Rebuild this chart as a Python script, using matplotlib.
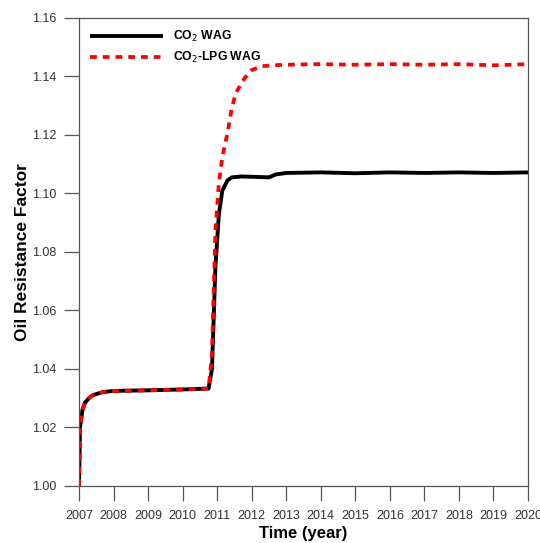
import matplotlib
matplotlib.use("Agg")
import matplotlib.pyplot as plt

plt.rcParams['font.family'] = ['Liberation Sans', 'DejaVu Sans']

# CO2 WAG
co2_t = [2007.0, 2007.03, 2007.1, 2007.17, 2007.3, 2007.41, 2007.69, 2008.0, 2009.0,
         2010.0, 2010.75, 2010.85, 2010.95, 2011.05, 2011.15, 2011.3, 2011.43, 2011.7,
         2012.0, 2012.5, 2012.7, 2013.0, 2014.0, 2015.0, 2016.0, 2017.0, 2018.0, 2019.0, 2020.0]
co2_v = [1.000, 1.020, 1.026, 1.0284, 1.0302, 1.0311, 1.0321, 1.0325, 1.0327,
         1.0330, 1.0333, 1.040, 1.075, 1.093, 1.101, 1.1045, 1.1055, 1.1058,
         1.1057, 1.1055, 1.1065, 1.107, 1.1072, 1.1069, 1.1072, 1.107, 1.1072, 1.107, 1.1072]

# CO2-LPG WAG
lpg_t = [2007.0, 2007.03, 2007.1, 2007.17, 2007.3, 2007.41, 2007.69, 2008.0, 2009.0,
         2010.0, 2010.75, 2010.85, 2010.95, 2011.05, 2011.15, 2011.3, 2011.43, 2011.55,
         2011.8, 2012.0, 2012.3, 2012.6, 2013.0, 2014.0, 2015.0, 2016.0, 2017.0, 2018.0,
         2019.0, 2020.0]
lpg_v = [1.000, 1.020, 1.026, 1.0284, 1.0302, 1.0311, 1.0321, 1.0325, 1.0327,
         1.0330, 1.0333, 1.045, 1.0875, 1.1036, 1.1125, 1.1207, 1.1296, 1.1345,
         1.1395, 1.1422, 1.1435, 1.1438, 1.1440, 1.1442, 1.1440, 1.1442, 1.1440, 1.1442,
         1.1438, 1.1442]

xticks = list(range(2007, 2021))
yticks = [1.00, 1.02, 1.04, 1.06, 1.08, 1.10, 1.12, 1.14, 1.16]

fig = plt.figure(figsize=(5.4, 5.43), dpi=100)
ax = fig.add_axes([0.1463, 0.105, 0.8315, 0.862])

ax.plot(co2_t, co2_v, color='black', lw=2.8, label='CO$_2$ WAG', solid_capstyle='butt')
ax.plot(lpg_t, lpg_v, color='red', lw=2.7, ls=(0, (1.8, 1.6)), label='CO$_2$-LPG WAG')

ax.set_xlim(2007, 2020)
ax.set_ylim(1.00, 1.16)
ax.set_xticks(xticks)
ax.set_xticklabels([str(x) for x in xticks])
ax.set_yticks(yticks)
ax.set_yticklabels(['%.2f' % y for y in yticks])

for s in ax.spines.values():
    s.set_color('#555555')
    s.set_linewidth(0.9)
ax.tick_params(axis='both', colors='#555555', labelcolor='#333333', labelsize=9,
               length=11, width=0.9)
ax.tick_params(axis='x', pad=6.5)
ax.tick_params(axis='y', pad=5.5)

ax.set_xlabel('Time (year)', fontsize=12, fontweight='bold', labelpad=3)
ax.set_ylabel('Oil Resistance Factor', fontsize=12.5, fontweight='bold', labelpad=1.5)

leg = ax.legend(loc='upper left', frameon=False, handlelength=6.0,
                prop={'weight': 'bold', 'size': 8.8}, bbox_to_anchor=(0.0, 1.0),
                borderaxespad=0.5, labelspacing=0.5)

fig.savefig('out.png', dpi=100)
